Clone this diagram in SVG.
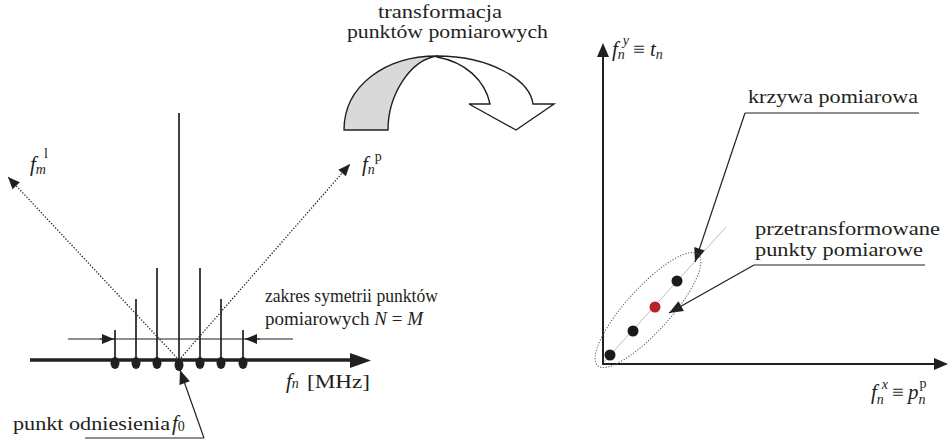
<svg xmlns="http://www.w3.org/2000/svg" width="952" height="440" viewBox="0 0 952 440">
<style>
.t{font-family:"Liberation Serif","Times New Roman",serif;font-size:19px;fill:#231f20}
.m{font-family:"Liberation Serif","Times New Roman",serif;font-size:21px;font-style:italic;fill:#231f20}
.s{font-size:14px}
.up{font-style:normal}
.ln{stroke:#231f20;fill:none}
.dot{stroke:#231f20;stroke-width:1.3;stroke-dasharray:1.3 1.7;fill:none}
</style>
<defs>
<marker id="ah" markerUnits="userSpaceOnUse" markerWidth="13" markerHeight="11" refX="12" refY="5" orient="auto" overflow="visible">
<path d="M0,0 L12,5 L0,10 z" fill="#231f20"/>
</marker>
<marker id="ahb" markerUnits="userSpaceOnUse" markerWidth="15" markerHeight="12" refX="14" refY="5.5" orient="auto" overflow="visible">
<path d="M0,0 L14,5.5 L0,11 z" fill="#231f20"/>
</marker>
</defs>
<rect width="952" height="440" fill="#fff"/>

<g id="transform-arrow">
<path d="M344,130 C344,86 385,56 437,56 C410,60 388,95 388,130 Z" fill="#d9d9d9" stroke="#231f20" stroke-width="1.4" stroke-linejoin="round"/>
<path d="M437,56 C490,56 530,80 533,104 L554,104 L516,130 L469,104 L490,104 C485,80 465,62 437,57 Z" fill="#fff" stroke="#231f20" stroke-width="1.4" stroke-linejoin="miter"/>
<text class="t" x="378" y="18" textLength="124" lengthAdjust="spacingAndGlyphs">transformacja</text>
<text class="t" x="347" y="38" textLength="201" lengthAdjust="spacingAndGlyphs">punktów pomiarowych</text>
</g>

<g id="left-spectrum">
<line class="ln" x1="179" y1="113" x2="179" y2="360" stroke-width="1.7"/>
<line class="ln" x1="157" y1="268" x2="157" y2="360" stroke-width="1.7"/>
<line class="ln" x1="200" y1="268" x2="200" y2="360" stroke-width="1.7"/>
<line class="ln" x1="136" y1="299" x2="136" y2="360" stroke-width="1.7"/>
<line class="ln" x1="221" y1="299" x2="221" y2="360" stroke-width="1.7"/>
<line class="ln" x1="115" y1="330" x2="115" y2="360" stroke-width="1.7"/>
<line class="ln" x1="243" y1="330" x2="243" y2="360" stroke-width="1.7"/>
<g fill="#231f20">
<ellipse cx="115" cy="363" rx="4.5" ry="6"/>
<ellipse cx="136" cy="363" rx="4.5" ry="6"/>
<ellipse cx="157" cy="363" rx="4.5" ry="6"/>
<ellipse cx="179" cy="365" rx="4.5" ry="6"/>
<ellipse cx="200" cy="363" rx="4.5" ry="6"/>
<ellipse cx="221" cy="363" rx="4.5" ry="6"/>
<ellipse cx="243" cy="363" rx="4.5" ry="6"/>
</g>
</g>

<g id="connectors">
<line class="ln" x1="30" y1="360" x2="352" y2="360" stroke-width="3.5"/>
<path d="M350,353 L371,360.5 L350,368 z" fill="#231f20"/>
<line class="ln" x1="68" y1="339" x2="293" y2="339" stroke-width="1"/>
<line class="ln" x1="100" y1="339" x2="114" y2="339" stroke-width="1" marker-end="url(#ah)"/>
<line class="ln" x1="260" y1="339" x2="245" y2="339" stroke-width="1" marker-end="url(#ah)"/>
<line class="dot" x1="179" y1="360" x2="350" y2="164" marker-end="url(#ah)"/>
<line class="dot" x1="179" y1="360" x2="8" y2="177" marker-end="url(#ah)"/>
<line class="ln" x1="85" y1="438" x2="204" y2="438" stroke-width="1"/>
<line class="ln" x1="204" y1="438" x2="180" y2="370" stroke-width="1.2" marker-end="url(#ahb)"/>
<line class="ln" x1="603" y1="364" x2="603" y2="55" stroke-width="2"/>
<path d="M597,57 L603,43 L609,57 z" fill="#231f20"/>
<line class="ln" x1="602" y1="364" x2="937" y2="364" stroke-width="2"/>
<path d="M934,358 L948,364 L934,370 z" fill="#231f20"/>
<line x1="726" y1="227" x2="604" y2="362" stroke="#bdbdbd" stroke-width="1"/>
<line class="ln" x1="745" y1="113" x2="919" y2="113" stroke-width="1"/>
<line class="ln" x1="745" y1="113" x2="695" y2="262" stroke-width="1.2" marker-end="url(#ahb)"/>
<line class="ln" x1="754" y1="265" x2="925" y2="265" stroke-width="1"/>
<line class="ln" x1="754" y1="265" x2="669" y2="313" stroke-width="1.2" marker-end="url(#ahb)"/>
</g>

<g id="right-points">
<ellipse cx="648" cy="310" rx="75" ry="22" transform="rotate(-47.8 648 310)" fill="none" stroke="#555" stroke-width="1" stroke-dasharray="1.2 1.6"/>
<circle cx="610" cy="355" r="5.5" fill="#1a1a1a"/>
<circle cx="633" cy="331" r="5.5" fill="#1a1a1a"/>
<circle cx="655" cy="307" r="5.5" fill="#b5242b"/>
<circle cx="677" cy="281" r="5.5" fill="#1a1a1a"/>
</g>

<g id="labels">
<text class="m" x="30" y="171">f<tspan class="s" dy="3">m</tspan><tspan class="s up" dx="-2" dy="-16">l</tspan></text>
<text class="m" x="362" y="171">f<tspan class="s" dy="3">n</tspan><tspan class="s up" dx="0" dy="-13">p</tspan></text>
<text class="m" x="286" y="388">f<tspan class="s" dy="0">n</tspan></text>
<text class="t" x="307" y="388" textLength="63" lengthAdjust="spacingAndGlyphs">[MHz]</text>
<text class="t" x="265" y="302" textLength="173" lengthAdjust="spacingAndGlyphs">zakres symetrii punktów</text>
<text class="t" x="265" y="325">pomiarowych <tspan font-style="italic">N</tspan> = <tspan font-style="italic">M</tspan></text>
<text class="t" x="13" y="430" textLength="157" lengthAdjust="spacingAndGlyphs">punkt odniesienia</text>
<text class="m" x="172" y="430">f<tspan class="s up" dy="1">0</tspan></text>
<text class="m" x="612" y="56">f<tspan class="s" dy="3">n</tspan><tspan class="s" dx="-2" dy="-14">y</tspan><tspan class="up" dx="4" dy="11">≡</tspan><tspan dx="5">t</tspan><tspan class="s" dy="3">n</tspan></text>
<text class="m" x="871" y="399">f<tspan class="s" dy="5">n</tspan><tspan class="s" dx="-2" dy="-15">x</tspan><tspan class="up" dx="4" dy="10">≡</tspan><tspan dx="4">p</tspan><tspan class="s" dy="5">n</tspan><tspan class="s up" dx="-6" dy="-16">p</tspan></text>
<text class="t" x="748" y="103" textLength="170" lengthAdjust="spacingAndGlyphs">krzywa pomiarowa</text>
<text class="t" x="755" y="235" textLength="185" lengthAdjust="spacingAndGlyphs">przetransformowane</text>
<text class="t" x="755" y="256" textLength="168" lengthAdjust="spacingAndGlyphs">punkty pomiarowe</text>
</g>
</svg>
